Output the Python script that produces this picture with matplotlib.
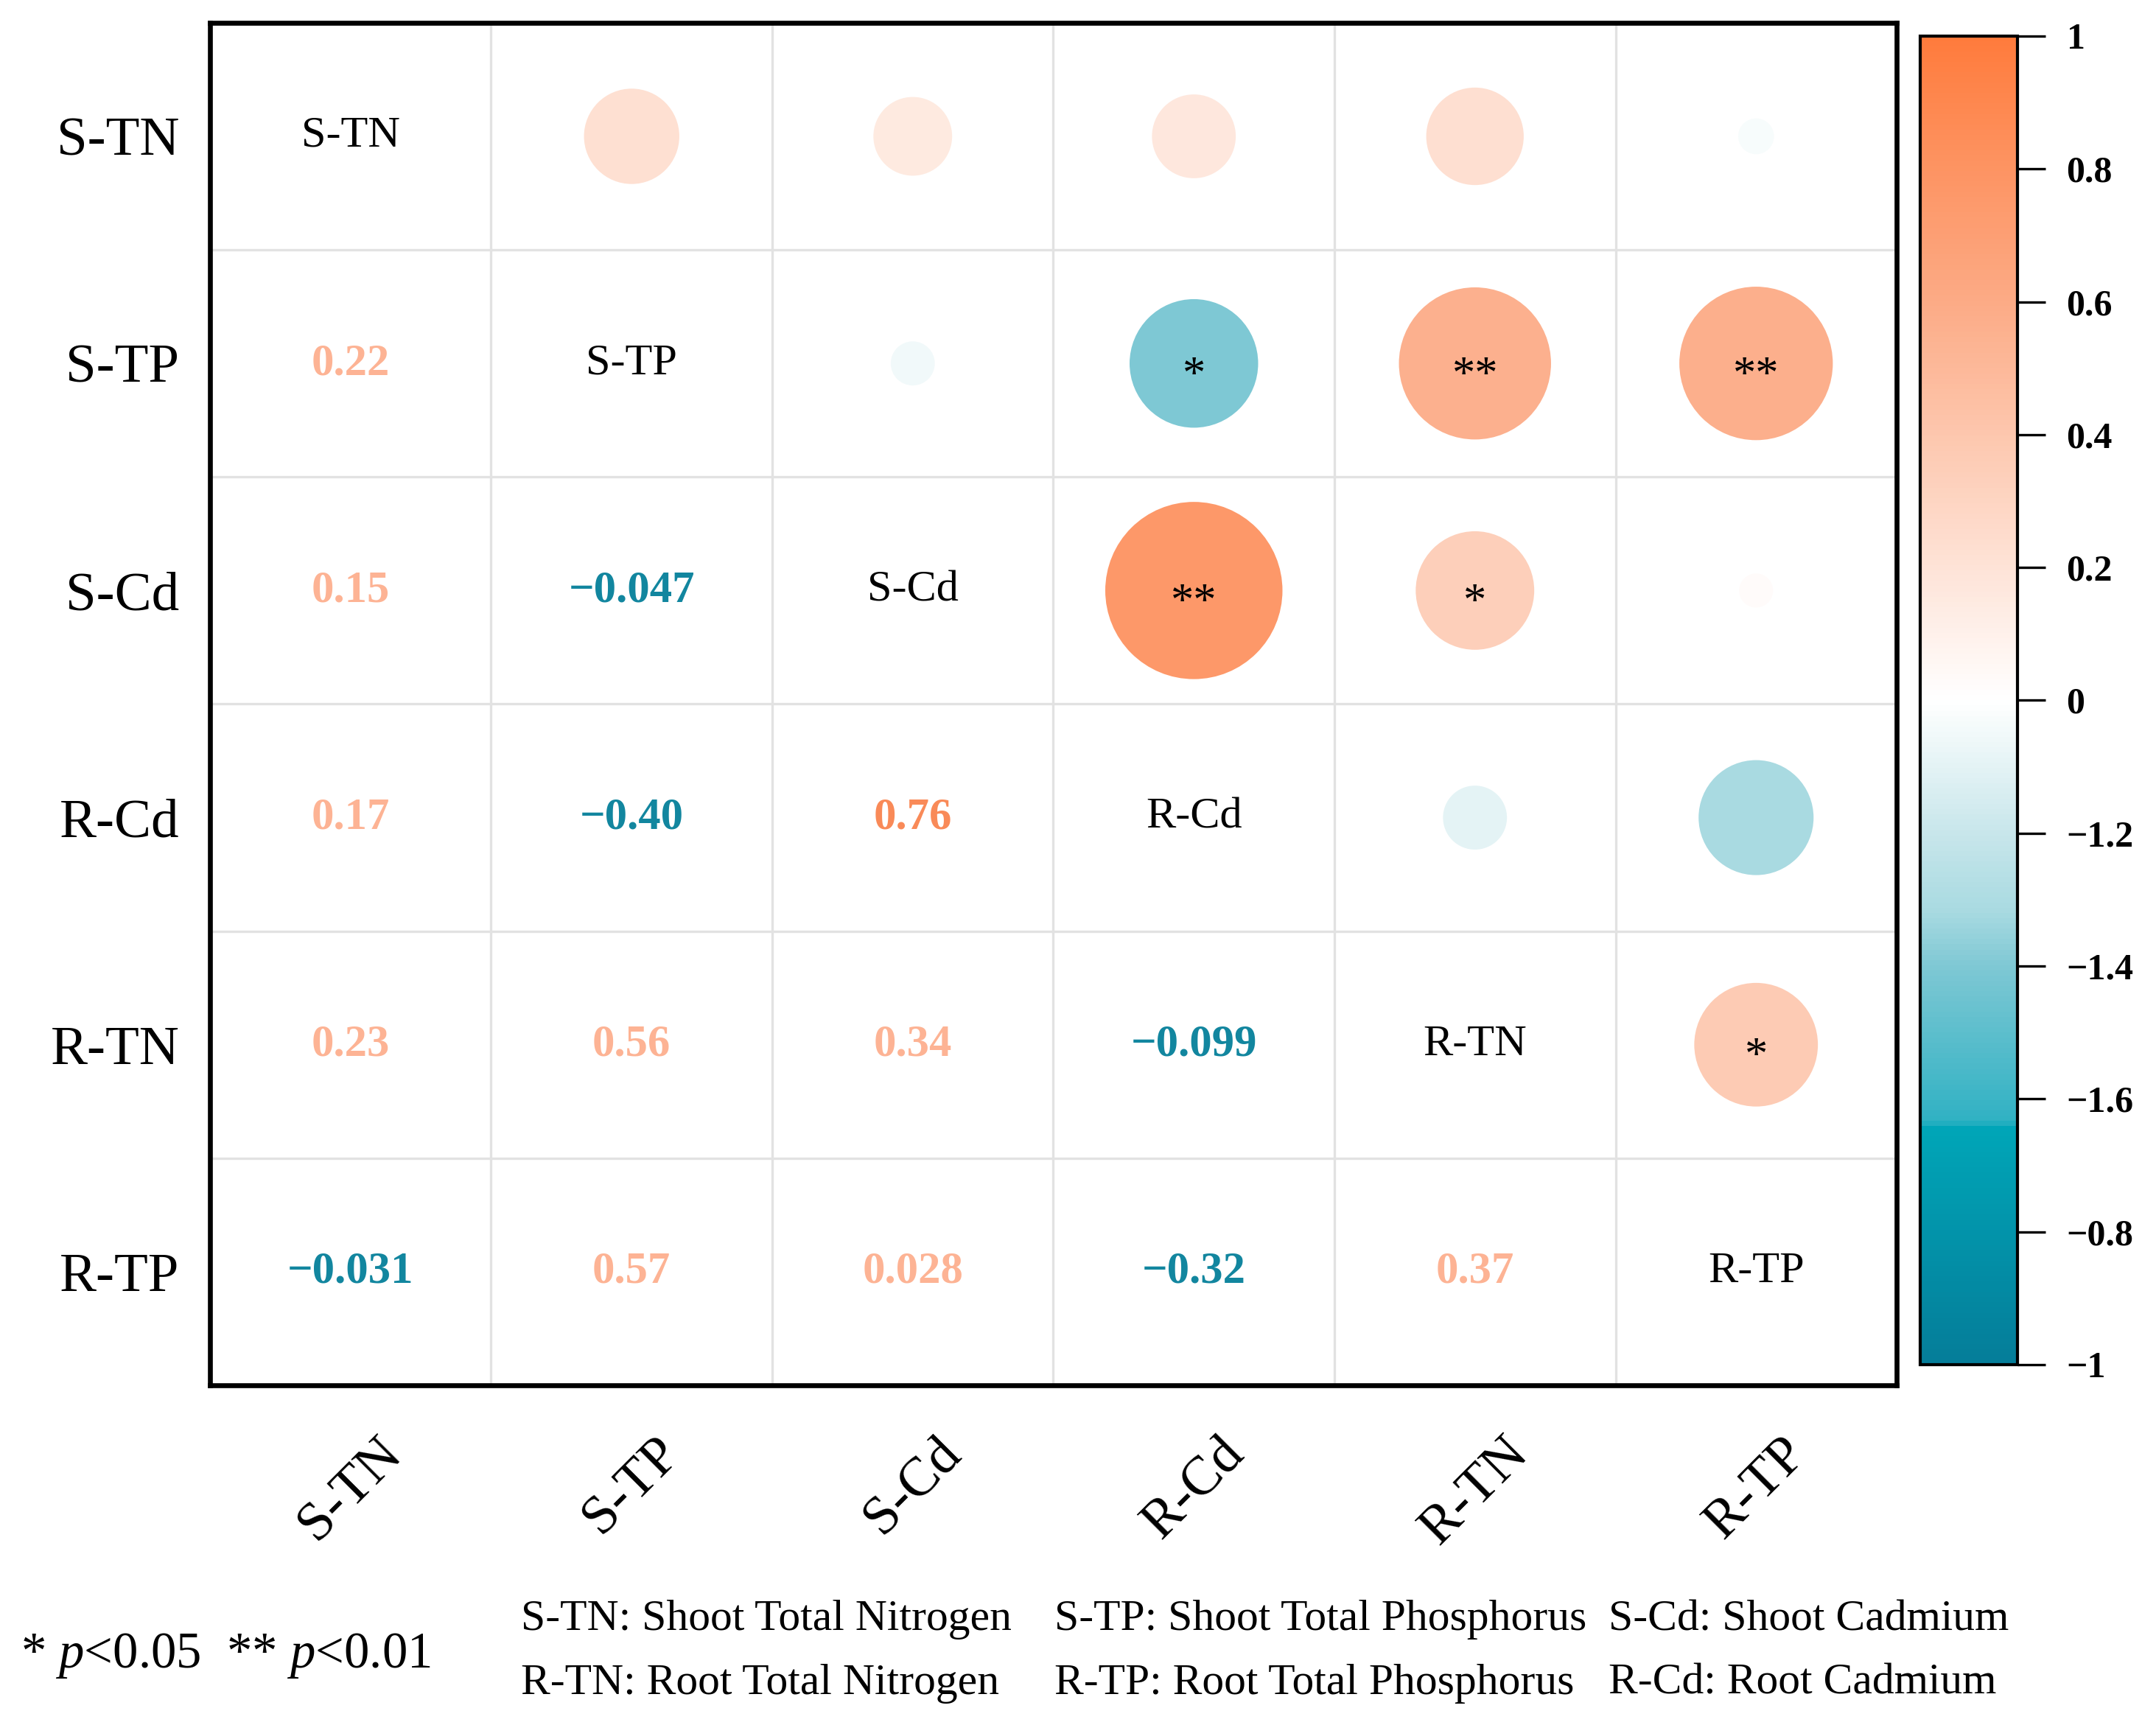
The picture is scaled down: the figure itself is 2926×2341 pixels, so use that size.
import numpy as np
import matplotlib
matplotlib.use('Agg')
import matplotlib.pyplot as plt
from matplotlib.colors import LinearSegmentedColormap, Normalize
from matplotlib.cm import ScalarMappable

plt.rcParams['font.family'] = ['Liberation Serif', 'DejaVu Serif']
plt.rcParams['mathtext.fontset'] = 'custom'
plt.rcParams['mathtext.rm'] = 'Liberation Serif'
plt.rcParams['mathtext.it'] = 'Liberation Serif:italic'

# variables
labels = ['S-TN', 'S-TP', 'S-Cd', 'R-Cd', 'R-TN', 'R-TP']

# correlation matrix (symmetric)
corr = np.array([
    [1.00, 0.22, 0.15, 0.17, 0.23, -0.031],
    [0.22, 1.00, -0.047, -0.40, 0.56, 0.57],
    [0.15, -0.047, 1.00, 0.76, 0.34, 0.028],
    [0.17, -0.40, 0.76, 1.00, -0.099, -0.32],
    [0.23, 0.56, 0.34, -0.099, 1.00, 0.37],
    [-0.031, 0.57, 0.028, -0.32, 0.37, 1.00],
])
value_text = [
    ['', '', '', '', '', ''],
    ['0.22', '', '', '', '', ''],
    ['0.15', '\u22120.047', '', '', '', ''],
    ['0.17', '\u22120.40', '0.76', '', '', ''],
    ['0.23', '0.56', '0.34', '\u22120.099', '', ''],
    ['\u22120.031', '0.57', '0.028', '\u22120.32', '0.37', ''],
]
# significance marks (upper triangle)
signif = [
    ['', '', '', '', '', ''],
    ['', '', '', '*', '**', '**'],
    ['', '', '', '**', '*', ''],
    ['', '', '', '', '', ''],
    ['', '', '', '', '', '*'],
    ['', '', '', '', '', ''],
]

cbar_ticks = [-1, -0.8, -0.6, -0.4, -0.2, 0, 0.2, 0.4, 0.6, 0.8, 1]
cbar_ticklabels = ['\u22121', '\u22120.8', '\u22121.6', '\u22121.4', '\u22121.2',
                   '0', '0.2', '0.4', '0.6', '0.8', '1']

legend_defs = [
    ('S-TN: Shoot Total Nitrogen', 'R-TN: Root Total Nitrogen'),
    ('S-TP: Shoot Total Phosphorus', 'R-TP: Root Total Phosphorus'),
    ('S-Cd: Shoot Cadmium', 'R-Cd: Root Cadmium'),
]

cmap = LinearSegmentedColormap.from_list('corr', [
    (0.000, '#057d99'),
    (0.179, '#00a6b8'),
    (0.181, '#2fb1c3'),
    (0.300, '#7fc8d4'),
    (0.340, '#a8dae1'),
    (0.400, '#c8e6eb'),
    (0.500, '#ffffff'),
    (0.600, '#fee3d7'),
    (0.700, '#fdc7ae'),
    (0.800, '#fcab86'),
    (0.900, '#fd9463'),
    (1.000, '#ff7b3c'),
])
norm = Normalize(-1, 1)

fig = plt.figure(figsize=(2926 / 300, 2341 / 300), dpi=300)
ax = fig.add_axes([0.0974, 0.1969, 0.7823, 0.7899])
n = len(labels)

# circles in upper triangle
xs, ys, ss, cs = [], [], [], []
for i in range(n):
    for j in range(i + 1, n):
        xs.append(j)
        ys.append(i)
        ss.append(4383 * abs(corr[i, j]))
        cs.append(corr[i, j])
ax.scatter(xs, ys, s=ss, c=cs, cmap=cmap, norm=norm, linewidths=0, zorder=3)

for i in range(n):
    for j in range(n):
        if i == j:
            ax.text(j, i, labels[i], ha='center', va='center', fontsize=14.5, zorder=4)
        elif i > j:
            r = corr[i, j]
            if r < 0:
                col = '#12869f'
            elif r >= 0.7:
                col = '#f98a58'
            else:
                col = '#fdb394'
            ax.text(j, i, value_text[i][j], ha='center', va='center', fontsize=14.6,
                    fontweight='bold', color=col, zorder=4)
        elif signif[i][j]:
            ax.text(j, i + 0.06, signif[i][j], ha='center', va='center', fontsize=15, zorder=4)

ax.set_xlim(-0.5, n - 0.5)
ax.set_ylim(n - 0.5, -0.5)
ax.set_xticks(range(n))
ax.set_yticks(range(n))
ax.set_xticklabels(labels, rotation=45, ha='center', va='top', fontsize=18)
ax.set_yticklabels(labels, fontsize=18)
ax.tick_params(axis='both', length=0)
ax.tick_params(axis='x', pad=14)
ax.tick_params(axis='y', pad=10)
ax.set_xticks(np.arange(-0.5, n, 1), minor=True)
ax.set_yticks(np.arange(-0.5, n, 1), minor=True)
ax.tick_params(which='minor', length=0)
ax.grid(which='minor', color='#e2e2e2', linewidth=0.8)
ax.grid(which='major', visible=False)
for sp in ax.spines.values():
    sp.set_linewidth(1.6)

# colorbar
cax = fig.add_axes([0.8906, 0.2089, 0.0451, 0.7702])
cb = fig.colorbar(ScalarMappable(norm=norm, cmap=cmap), cax=cax)
cb.set_ticks(cbar_ticks)
cb.set_ticklabels(cbar_ticklabels)
cb.outline.set_linewidth(1.0)
cax.tick_params(length=9, width=0.8, pad=7)
for t in cax.get_yticklabels():
    t.set_fontsize(12)
    t.set_fontweight('bold')

# notes under the plot
fig.text(0.0096, 0.040, r'* $p$<0.05  ** $p$<0.01', fontsize=16.5, va='center')
col_x = [0.2416, 0.489, 0.746]
for x, (top, bottom) in zip(col_x, legend_defs):
    fig.text(x, 0.061, top, fontsize=14.3, va='center')
    fig.text(x, 0.024, bottom, fontsize=14.3, va='center')

fig.savefig('out.png', dpi=300)
